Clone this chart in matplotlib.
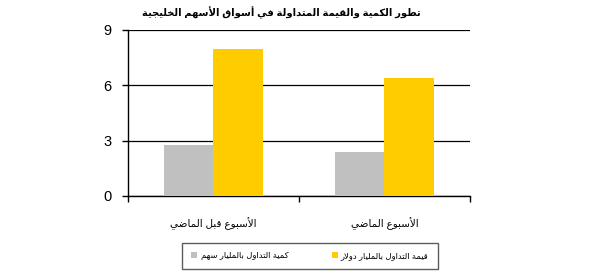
import numpy as np
import matplotlib
matplotlib.use("Agg")
import matplotlib.pyplot as plt

# data
categories = ["الأسبوع قبل الماضي", "الأسبوع الماضي"]
volume = [2.75, 2.4]     # كمية التداول بالمليار سهم
value = [7.95, 6.4]      # قيمة التداول بالمليار دولار
series_names = ["كمية التداول بالمليار سهم", "قيمة التداول بالمليار دولار"]
title = "تطور الكمية والقيمة المتداولة في أسواق الأسهم الخليجية"
yticks = [0, 3, 6, 9]

# minimal arabic shaping (presentation forms B), no reshaper lib needed
# letter: (isolated, final, initial, medial)
FORMS = {
    '\u0627': ('\uFE8D', '\uFE8E', None, None),
    '\u0623': ('\uFE83', '\uFE84', None, None),
    '\u0628': ('\uFE8F', '\uFE90', '\uFE91', '\uFE92'),
    '\u0629': ('\uFE93', '\uFE94', None, None),
    '\u062A': ('\uFE95', '\uFE96', '\uFE97', '\uFE98'),
    '\u062C': ('\uFE9D', '\uFE9E', '\uFE9F', '\uFEA0'),
    '\u062E': ('\uFEA5', '\uFEA6', '\uFEA7', '\uFEA8'),
    '\u062F': ('\uFEA9', '\uFEAA', None, None),
    '\u0631': ('\uFEAD', '\uFEAE', None, None),
    '\u0633': ('\uFEB1', '\uFEB2', '\uFEB3', '\uFEB4'),
    '\u0636': ('\uFEBD', '\uFEBE', '\uFEBF', '\uFEC0'),
    '\u0637': ('\uFEC1', '\uFEC2', '\uFEC3', '\uFEC4'),
    '\u0639': ('\uFEC9', '\uFECA', '\uFECB', '\uFECC'),
    '\u0641': ('\uFED1', '\uFED2', '\uFED3', '\uFED4'),
    '\u0642': ('\uFED5', '\uFED6', '\uFED7', '\uFED8'),
    '\u0643': ('\uFED9', '\uFEDA', '\uFEDB', '\uFEDC'),
    '\u0644': ('\uFEDD', '\uFEDE', '\uFEDF', '\uFEE0'),
    '\u0645': ('\uFEE1', '\uFEE2', '\uFEE3', '\uFEE4'),
    '\u0647': ('\uFEE9', '\uFEEA', '\uFEEB', '\uFEEC'),
    '\u0648': ('\uFEED', '\uFEEE', None, None),
    '\u064A': ('\uFEF1', '\uFEF2', '\uFEF3', '\uFEF4'),
}
LAM_ALEF = {'\u0627': ('\uFEFB', '\uFEFC'), '\u0623': ('\uFEF7', '\uFEF8')}


def joins_forward(ch):
    return ch in FORMS and FORMS[ch][2] is not None


def shape(text):
    out = []
    i = 0
    while i < len(text):
        ch = text[i]
        if ch not in FORMS:
            out.append(ch)
            i += 1
            continue
        prev = text[i - 1] if i > 0 else ''
        nxt = text[i + 1] if i + 1 < len(text) else ''
        cp = joins_forward(prev)
        if ch == '\u0644' and nxt in LAM_ALEF:
            out.append(LAM_ALEF[nxt][1 if cp else 0])
            i += 2
            continue
        cn = joins_forward(ch) and nxt in FORMS
        iso, fin, ini, med = FORMS[ch]
        if cp and cn:
            out.append(med)
        elif cp:
            out.append(fin)
        elif cn:
            out.append(ini)
        else:
            out.append(iso)
        i += 1
    return ''.join(out)[::-1]


# Liberation for the digits, DejaVu picks up the arabic glyphs
plt.rcParams['font.family'] = ['Liberation Sans', 'DejaVu Sans']

fig = plt.figure(figsize=(6, 2.75), dpi=100)
ax = fig.add_axes([0.2133, 0.288, 0.57, 0.603])

x = np.arange(len(categories))
w = 0.29
ax.bar(x - w / 2, volume, w, color="#C0C0C0", label=shape(series_names[0]), zorder=3)
ax.bar(x + w / 2, value, w, color="#FFCC00", label=shape(series_names[1]), zorder=3)

ax.set_xlim(-0.5, 1.5)
ax.set_ylim(0, 9)
ax.set_yticks(yticks)
ax.tick_params(axis='y', direction='out', length=4, width=1, pad=8, labelsize=10.5)
ax.yaxis.grid(True, color='black', linewidth=0.9, zorder=0)

ax.set_xticks([-0.5, 0.5, 1.5])
ax.set_xticklabels([])
ax.set_xticks(x, minor=True)
ax.set_xticklabels([shape(c) for c in categories], minor=True, fontsize=7.5)
ax.tick_params(axis='x', which='major', direction='out', length=4, width=1)
ax.tick_params(axis='x', which='minor', length=0, pad=15)

for s in ['top', 'right']:
    ax.spines[s].set_visible(False)
for s in ['left', 'bottom']:
    ax.spines[s].set_color('black')
    ax.spines[s].set_linewidth(1)

fig.text(281 / 600, 1 - 13 / 275, shape(title), ha='center', va='center',
         fontsize=7.2, fontweight='bold')

leg = fig.legend(loc='center', bbox_to_anchor=(310 / 600, 1 - 256 / 275), ncol=2,
                 fontsize=6, frameon=True, fancybox=False, handlelength=0.7,
                 handleheight=0.7, handletextpad=0.4, columnspacing=5.2,
                 borderpad=1.1, borderaxespad=0)
leg.get_frame().set_edgecolor('#333333')
leg.get_frame().set_linewidth(1)

fig.savefig("out.png", dpi=100)
